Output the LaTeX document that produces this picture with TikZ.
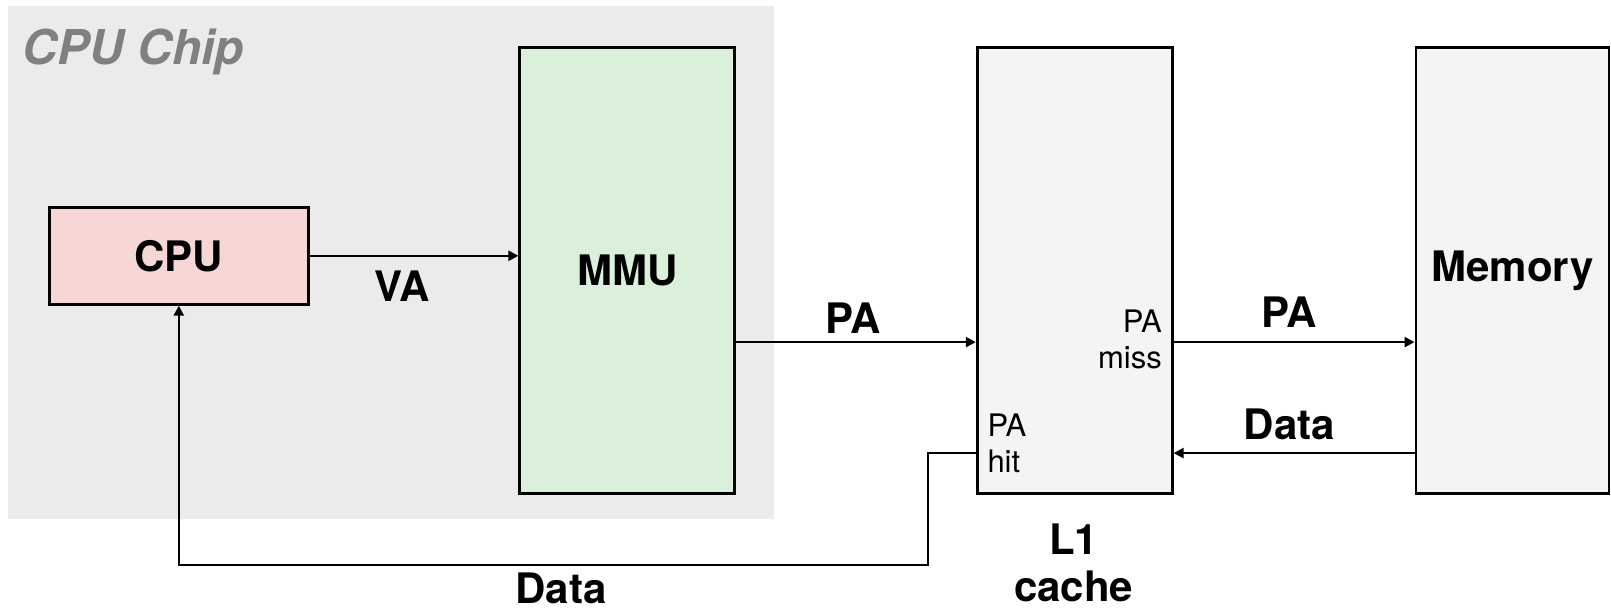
\documentclass[tikz,border=0pt]{standalone}
\usepackage{fontspec}
\setmainfont{TeX Gyre Heros}
\usepackage{xcolor}
\usetikzlibrary{arrows.meta, positioning}
\definecolor{chipbg}{RGB}{235,235,235}
\definecolor{chipgray}{RGB}{128,128,128}
\definecolor{cpufill}{RGB}{247,214,214}
\definecolor{mmufill}{RGB}{218,240,218}
\definecolor{cachefill}{RGB}{244,244,244}
\tikzstyle{unit}=[rectangle, draw=black, line width=2.8pt,
  font=\fontsize{42}{48}\selectfont\bfseries, text centered, align=center,
  inner sep=0pt]
\tikzstyle{link}=[-{Triangle[length=10pt,width=10pt]}, line width=2.4pt]
\tikzstyle{lbl}=[font=\fontsize{42}{47}\selectfont\bfseries, inner sep=0pt, align=center]
\tikzstyle{note}=[font=\fontsize{31}{36}\selectfont, inner sep=0pt]

\begin{document}
\begin{tikzpicture}[x=1pt, y=-1pt]
    \useasboundingbox (0,0) rectangle (1611,610);
    \fill[chipbg] (8,6) rectangle (774,519);
    \node[anchor=base west, inner sep=0pt, text=chipgray,
      font=\fontsize{48}{50}\selectfont\bfseries\itshape] (chip) at (22.6,64.7) {CPU Chip};
    \node[unit, fill=cpufill, minimum width=259pt, minimum height=97pt] (cpu) at (178.8,255.8) {CPU};
    \node[unit, fill=mmufill, minimum width=215pt, minimum height=446pt] (mmu) at (627.3,270.3) {MMU};
    \node[unit, fill=cachefill, minimum width=195pt, minimum height=446pt] (l1) at (1074.7,270.3) {};
    \node[unit, fill=cachefill, minimum width=193pt, minimum height=446pt] (mem) at (1512.4,270.3) {Memory};
    \node[lbl] (va) at (401.7,286.6) {VA};
    \node[lbl] (pammu) at (852.8,318.5) {PA};
    \node[lbl] (pamem) at (1289.4,312.3) {PA};
    \node[lbl] (datamem) at (1289.4,424.3) {Data};
    \node[lbl] (datacpu) at (561,588.7) {Data};
    \node[lbl] (l1name) at (1073.6,563) {L1\\cache};
    \node[note, align=right, anchor=east] (miss) at (1162,339.6) {PA\\miss};
    \node[note, align=left, anchor=west] (hit) at (987.3,443.5) {PA\\hit};
    \draw[link] (cpu.east) -- (mmu.west |- cpu.east);
    \draw[link] ([yshift=-71.8pt]mmu.east) -- ([yshift=-71.8pt]l1.west);
    \draw[link] ([yshift=-71.8pt]l1.east) -- ([yshift=-71.8pt]mem.west);
    \draw[link] ([yshift=-182.8pt]mem.west) -- ([yshift=-182.8pt]l1.east);
    \coordinate (turn) at (927.7,565.1);
    \draw[link] ([yshift=-182.8pt]l1.west) -| (turn) -| (cpu.south);
  \end{tikzpicture}
\end{document}
